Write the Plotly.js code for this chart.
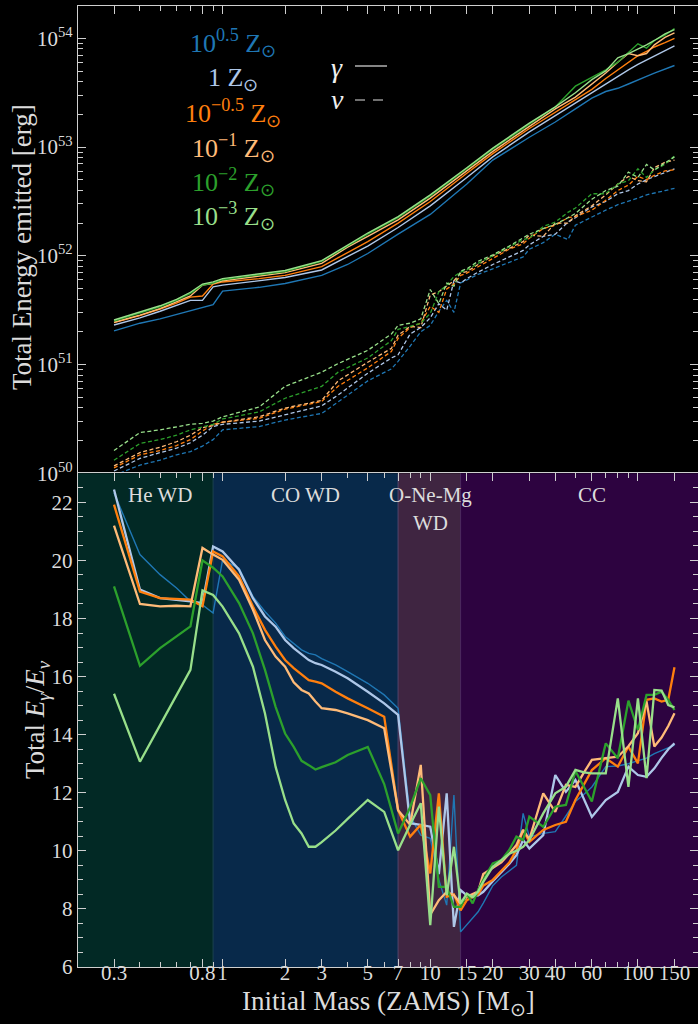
<!DOCTYPE html>
<html><head><meta charset="utf-8">
<script src="https://cdn.plot.ly/plotly-3.0.1.min.js"></script>
<style>html,body{margin:0;padding:0;background:#000;} #chart{width:698px;height:1024px;}</style>
</head><body><div id="chart"></div>
<script>
// ---------- DATA ----------
const seriesNames = ['10<sup>0.5</sup> Z<sub>⊙</sub>', '1 Z<sub>⊙</sub>', '10<sup>−0.5</sup> Z<sub>⊙</sub>',
                     '10<sup>−1</sup> Z<sub>⊙</sub>', '10<sup>−2</sup> Z<sub>⊙</sub>', '10<sup>−3</sup> Z<sub>⊙</sub>'];

// Top panel: photon energy (erg) vs mass
const massGamma = [0.3,0.4,0.5,0.6,0.7,0.8,0.9,1.0,1.5,2,3,4,5,7,10,15,20,30,40,50,60,70,80,90,100,110,120,135,150];
const gamma_p05 = [2.04e51,2.40e51,2.63e51,2.88e51,3.09e51,3.31e51,3.55e51,4.73e51,5.13e51,5.56e51,6.61e51,8.32e51,1.05e52,1.58e52,2.40e52,4.57e52,7.59e52,1.23e53,1.70e53,2.24e53,2.82e53,3.24e53,3.47e53,3.80e53,4.17e53,4.47e53,4.79e53,5.25e53,5.62e53];
const gamma_0   = [2.31e51,2.69e51,3.09e51,3.47e51,3.89e51,3.89e51,5.19e51,5.37e51,5.89e51,6.31e51,7.41e51,9.77e51,1.23e52,1.82e52,2.88e52,5.25e52,8.13e52,1.38e53,1.95e53,2.51e53,3.16e53,3.80e53,4.47e53,5.13e53,5.75e53,6.31e53,6.92e53,7.76e53,8.51e53];
const gamma_m05 = [2.43e51,2.82e51,3.24e51,3.67e51,4.17e51,4.27e51,5.50e51,5.75e51,6.17e51,6.61e51,7.94e51,1.07e52,1.35e52,2.00e52,3.16e52,5.75e52,8.71e52,1.48e53,2.09e53,2.69e53,3.39e53,4.27e53,5.13e53,6.03e53,6.92e53,7.59e53,8.32e53,9.12e53,1.00e54];
const gamma_m1  = [2.45e51,2.85e51,3.27e51,3.76e51,4.27e51,5.37e51,5.56e51,5.89e51,6.46e51,7.00e51,8.51e51,1.20e52,1.51e52,2.14e52,3.39e52,6.03e52,9.12e52,1.55e53,2.24e53,2.88e53,3.80e53,4.79e53,6.03e53,7.24e53,6.92e53,7.24e53,8.71e53,1.02e54,1.12e54];
const gamma_m2  = [2.51e51,2.95e51,3.39e51,3.89e51,4.52e51,5.37e51,5.62e51,6.03e51,6.61e51,7.16e51,8.91e51,1.23e52,1.58e52,2.24e52,3.55e52,6.31e52,9.55e52,1.62e53,2.34e53,3.63e53,4.37e53,5.13e53,6.03e53,7.41e53,8.91e53,8.13e53,9.55e53,1.07e54,1.23e54];
const gamma_m3  = [2.57e51,3.02e51,3.47e51,3.98e51,4.62e51,5.50e51,5.75e51,6.17e51,6.76e51,7.33e51,9.02e51,1.26e52,1.62e52,2.29e52,3.63e52,6.46e52,9.77e52,1.66e53,2.34e53,3.16e53,4.17e53,5.01e53,6.61e53,7.24e53,7.94e53,8.71e53,9.55e53,1.10e54,1.20e54];

// Top panel: neutrino energy (erg) vs mass
const massNu = [0.3,0.4,0.5,0.6,0.7,0.8,0.9,1.0,1.5,2,3,3.6,5,6.5,7,8,9,10,11,12,13,14,15,17,20,24,28,30,35,40,46,50,60,70,80,90,100,110,120,135,150];
const nu_p05 = [9.55e49,1.19e50,1.32e50,1.48e50,1.58e50,1.78e50,2.04e50,2.51e50,2.69e50,3.09e50,3.55e50,4.57e50,7.08e50,9.12e50,1.07e51,1.48e51,2.00e51,2.29e51,3.09e51,3.89e51,3.02e51,5.62e51,6.03e51,6.76e51,7.59e51,8.71e51,9.77e51,1.15e52,1.32e52,1.58e52,1.41e52,1.91e52,2.29e52,2.63e52,2.95e52,3.16e52,3.39e52,3.63e52,3.80e52,3.98e52,4.17e52];
const nu_0   = [1.05e50,1.37e50,1.55e50,1.70e50,1.91e50,2.24e50,2.69e50,2.82e50,3.02e50,3.47e50,4.17e50,5.25e50,8.32e50,1.15e51,1.23e51,1.91e51,2.19e51,2.69e51,3.63e51,3.16e51,5.89e51,5.62e51,6.17e51,7.08e51,8.32e51,9.77e51,1.12e52,1.26e52,1.51e52,1.58e52,2.04e52,2.24e52,2.82e52,3.16e52,3.72e52,3.98e52,4.57e52,5.01e52,5.37e52,5.89e52,6.31e52];
const nu_m05 = [1.12e50,1.48e50,1.62e50,1.80e50,2.04e50,2.45e50,2.82e50,2.95e50,3.20e50,3.89e50,4.57e50,6.31e50,9.33e50,1.32e51,1.74e51,2.19e51,2.40e51,3.43e51,3.02e51,4.95e51,5.50e51,6.61e51,6.92e51,7.94e51,9.55e51,1.15e52,1.29e52,1.45e52,1.78e52,1.91e52,2.24e52,2.29e52,2.63e52,3.24e52,3.98e52,4.47e52,5.37e52,5.01e52,5.50e52,6.03e52,6.17e52];
const nu_m1  = [1.17e50,1.55e50,1.74e50,1.95e50,2.24e50,2.63e50,2.75e50,2.95e50,3.31e50,3.98e50,4.68e50,7.08e50,1.05e51,1.41e51,1.86e51,2.24e51,2.19e51,4.37e51,4.68e51,5.25e51,5.89e51,6.92e51,7.16e51,8.32e51,1.00e52,1.17e52,1.35e52,1.55e52,1.51e52,2.00e52,2.00e52,2.34e52,2.88e52,3.63e52,4.57e52,5.37e52,4.90e52,4.79e52,6.46e52,7.24e52,7.59e52];
const nu_m2  = [1.32e50,1.88e50,2.04e50,2.24e50,2.51e50,2.69e50,2.82e50,3.16e50,3.67e50,4.90e50,6.31e50,8.51e50,1.15e51,1.66e51,2.11e51,2.24e51,2.40e51,2.95e51,4.68e51,5.37e51,6.46e51,7.08e51,7.41e51,8.51e51,1.00e52,1.20e52,1.41e52,1.45e52,1.86e52,2.04e52,2.51e52,2.75e52,3.72e52,3.72e52,4.57e52,4.90e52,6.31e52,5.25e52,6.17e52,6.92e52,8.32e52];
const nu_m3  = [1.62e50,2.37e50,2.51e50,2.69e50,2.82e50,2.88e50,3.02e50,3.31e50,4.07e50,6.31e50,8.51e50,1.02e51,1.35e51,1.91e51,2.29e51,2.40e51,2.63e51,4.90e51,3.63e51,5.62e51,5.25e51,7.24e51,7.59e51,8.91e51,1.02e52,1.23e52,1.48e52,1.58e52,1.78e52,1.95e52,2.24e52,2.45e52,3.31e52,3.98e52,4.37e52,5.89e52,5.25e52,6.92e52,6.17e52,7.08e52,8.13e52];

// Bottom panel: E_gamma / E_nu vs mass
const massRatio = [0.3,0.4,0.5,0.6,0.7,0.8,0.9,1.0,1.2,1.4,1.6,1.8,2.0,2.2,2.4,2.6,2.8,3.0,3.5,4.0,5.0,6.0,7.0,8,9,10,11,12,13,14,15,16,17,18,20,22,24,26,28,30,35,40,45,50,55,60,70,80,90,100,110,120,130,140,150];
const ratio_p05 = [22.33,20.2,19.51,19.05,18.59,18.47,18.19,20.02,19.73,18.76,18.24,17.84,17.38,17.15,16.92,16.80,16.75,16.62,16.4,16.17,15.77,15.37,14.91,11.2,10.54,10.43,9.0,8.13,11.92,7.21,7.45,7.7,7.9,8.2,8.8,9.1,9.3,9.5,11.29,10.48,10.6,10.66,11.2,11.7,11.95,12.2,12.9,12.92,13.0,13.1,13.19,13.35,13.45,13.55,13.64];
const ratio_0   = [22.44,19.0,18.7,18.65,18.59,18.53,20.48,20.31,19.68,18.70,18.07,17.72,17.26,16.98,16.75,16.57,16.46,16.40,16.17,15.94,15.48,15.08,14.68,10.95,10.89,10.83,9.2,11.98,7.38,8.65,8.47,8.45,8.47,8.59,8.95,9.25,9.55,9.85,10.37,10.08,10.54,12.61,12.03,12.44,11.8,11.17,11.75,12.03,12.9,12.61,12.55,12.84,13.2,13.5,13.7];
const ratio_m05 = [21.92,18.93,18.7,18.68,18.65,18.42,20.31,20.14,19.45,18.41,17.61,17.03,16.57,16.29,16.06,15.88,15.83,15.77,15.48,15.25,14.91,14.62,11.4,10.49,10.9,9.22,11.98,8.42,8.5,7.95,8.3,8.42,8.5,8.8,9.0,9.3,9.6,10.03,10.72,10.31,10.72,10.89,11.0,11.75,12.3,12.78,13.19,12.9,13.59,13.01,15.2,15.25,15.14,15.2,16.32];
const ratio_m1  = [21.2,18.5,18.42,18.44,18.42,20.43,20.2,20.02,19.33,18.3,17.26,16.69,16.34,15.8,15.54,15.42,15.14,14.91,14.85,14.73,14.5,14.22,11.4,10.9,12.96,7.8,8.3,8.59,8.47,8.19,8.42,8.5,8.6,9.2,9.4,9.6,9.9,10.2,10.72,10.4,11.98,11.34,12.27,12.2,12.7,13.13,13.19,13.24,13.6,14.05,15.14,13.59,13.9,14.3,14.74];
const ratio_m2  = [19.11,16.37,16.98,17.38,17.73,20.0,19.75,19.45,18.53,17.49,16.23,14.96,14.04,13.58,13.1,12.95,12.8,12.88,13.05,13.3,13.58,12.3,10.6,11.5,12.5,11.92,8.76,8.76,8.07,8.07,8.53,8.19,8.65,9.0,9.57,9.68,10.03,10.49,10.37,11.18,10.83,11.52,11.58,12.75,12.2,11.7,13.7,13.19,15.17,14.16,15.37,15.37,15.48,15.2,14.85];
const ratio_m3  = [15.41,13.07,14.33,15.36,16.23,18.97,18.81,18.41,17.49,16.34,14.73,12.89,11.75,10.94,10.6,10.14,10.14,10.3,10.7,11.1,11.75,11.34,10.02,10.9,11.64,7.44,11.52,8.47,10.14,8.19,8.53,8.4,8.6,8.93,9.45,9.68,9.9,10.0,10.14,10.37,11.29,11.98,12.21,12.79,12.7,12.67,12.67,15.25,12.2,15.25,12.5,15.54,15.52,15.02,14.94];

// Remnant regions (mass boundaries) and labels
const regionNames = ['He WD', 'CO WD', 'O-Ne-Mg', 'CC'];
const regionEdges = [0.9, 7, 14];
const xTickVals = [0.3,0.8,1,2,3,5,7,10,15,20,30,40,60,100,150];
const xTickText = ['0.3','0.8','1','2','3','5','7','10','15','20','30','40','60','100','150'];

// ---------- STYLE ----------
const colors = ['#1f77b4','#aec7e8','#ff7f0e','#ffbb78','#2ca02c','#98df8a'];
const gammaSets = [gamma_p05,gamma_0,gamma_m05,gamma_m1,gamma_m2,gamma_m3];
const nuSets = [nu_p05,nu_0,nu_m05,nu_m1,nu_m2,nu_m3];
const ratioSets = [ratio_p05,ratio_0,ratio_m05,ratio_m1,ratio_m2,ratio_m3];
const ratioWidths = [1.4,2.3,2.3,2.3,2.3,2.3];

const FONT = 'Liberation Serif, Times New Roman, serif';
const TXT = '#dcdcdc';
const AX = '#cfcfcf';
const XR = [-0.6963, 2.2893];

const traces = [];
for (let i = 0; i < 6; i++) {
  traces.push({x: massGamma, y: gammaSets[i], xaxis:'x', yaxis:'y', mode:'lines',
    line:{color:colors[i], width:1.4}, hoverinfo:'skip', showlegend:false});
}
for (let i = 0; i < 6; i++) {
  traces.push({x: massNu, y: nuSets[i], xaxis:'x', yaxis:'y', mode:'lines',
    line:{color:colors[i], width:1.3, dash:'4px,2.5px'}, hoverinfo:'skip', showlegend:false});
}
for (let i = 0; i < 6; i++) {
  traces.push({x: massRatio, y: ratioSets[i], xaxis:'x2', yaxis:'y2', mode:'lines',
    line:{color:colors[i], width:ratioWidths[i]}, hoverinfo:'skip', showlegend:false});
}

// minor tick positions
const xMinor = [0.4,0.5,0.6,0.7,0.9,4,6,8,9,50,70,80,90];
const yMinorTop = [];
for (let d = 50; d < 55; d++) for (let k = 2; k <= 9; k++) yMinorTop.push(k * Math.pow(10, d));

const lg = Math.log10;
const xLo = Math.pow(10, XR[0]), xHi = Math.pow(10, XR[1]);
const bands = [
  {x0: xLo, x1: regionEdges[0], fill:'#022925'},
  {x0: regionEdges[0], x1: regionEdges[1], fill:'#08294a'},
  {x0: regionEdges[1], x1: regionEdges[2], fill:'#3f2541'},
  {x0: regionEdges[2], x1: xHi, fill:'#2d0340'}
];
const shapes = bands.map(b => ({type:'rect', xref:'x2', yref:'y2 domain', x0:b.x0, x1:b.x1, y0:0, y1:1,
  fillcolor:b.fill, line:{width:0}, layer:'below'}));
const edgeCols = ['#1c4452','#55486e','#4f2a62'];
regionEdges.forEach((e, i) => shapes.push({type:'line', xref:'x2', yref:'y2 domain', x0:e, x1:e, y0:0, y1:1,
  line:{color:edgeCols[i], width:1}, layer:'below'}));
// gamma / nu key lines
const px = v => (v - 78) / 620, py = v => (967 - v) / 961;
shapes.push({type:'line', xref:'paper', yref:'paper', x0:px(355), x1:px(387), y0:py(66), y1:py(66), line:{color:'#e0e0e0', width:1.2}});
shapes.push({type:'line', xref:'paper', yref:'paper', x0:px(355), x1:px(385), y0:py(100), y1:py(100), line:{color:'#e0e0e0', width:1.2, dash:'10px,8px'}});

const annotations = [];
const legendY = [43, 79, 113, 148, 182, 216];
seriesNames.forEach((n, i) => annotations.push({xref:'paper', yref:'paper', x:px(233), y:py(legendY[i]),
  text:n, showarrow:false, xanchor:'center', yanchor:'middle', font:{family:FONT, size:26, color:colors[i]}}));
annotations.push({xref:'paper', yref:'paper', x:px(337), y:py(67), text:'<i>γ</i>', showarrow:false,
  xanchor:'center', yanchor:'middle', font:{family:FONT, size:28, color:'#f0f0f0'}});
annotations.push({xref:'paper', yref:'paper', x:px(337), y:py(100), text:'<i>ν</i>', showarrow:false,
  xanchor:'center', yanchor:'middle', font:{family:FONT, size:28, color:'#f0f0f0'}});
// region labels
const regionLabelX = [0.5, 2.5, 10, 60];
regionNames.forEach((n, i) => annotations.push({xref:'x2', yref:'paper', x:lg(regionLabelX[i]), y:py(495),
  text:n, showarrow:false, xanchor:'center', yanchor:'middle', font:{family:FONT, size:21, color:TXT}}));
annotations.push({xref:'x2', yref:'paper', x:lg(regionLabelX[2]), y:py(523), text:'WD', showarrow:false,
  xanchor:'center', yanchor:'middle', font:{family:FONT, size:21, color:TXT}});
// axis titles
annotations.push({xref:'paper', yref:'paper', x:px(388), y:py(1003), text:'Initial Mass (ZAMS) [M<sub>⊙</sub>]',
  showarrow:false, xanchor:'center', yanchor:'middle', font:{family:FONT, size:27, color:TXT}});
annotations.push({xref:'paper', yref:'paper', x:px(22), y:py(247), text:'Total Energy emitted [erg]', textangle:-90,
  showarrow:false, xanchor:'center', yanchor:'middle', font:{family:FONT, size:27, color:TXT}});
annotations.push({xref:'paper', yref:'paper', x:px(37), y:py(720), text:'Total <i>E</i><sub><i>γ</i></sub>/<i>E</i><sub><i>ν</i></sub>', textangle:-90,
  showarrow:false, xanchor:'center', yanchor:'middle', font:{family:FONT, size:27, color:TXT}});

const tickFont = {family:FONT, size:21, color:TXT};
const splitY = 493.7 / 961;
const layout = {
  width:698, height:1024,
  margin:{l:78, r:0, t:6, b:57},
  paper_bgcolor:'#000000', plot_bgcolor:'#000000',
  showlegend:false,
  xaxis:{type:'log', range:XR, anchor:'y', side:'top', showline:true, linecolor:AX, linewidth:1.2,
    ticks:'inside', ticklen:8, tickwidth:1, tickcolor:AX, tickvals:xTickVals, showticklabels:false,
    showgrid:false, zeroline:false,
    minor:{tickmode:'array', tickvals:xMinor, ticks:'inside', ticklen:5, tickwidth:1, tickcolor:AX, showgrid:false}},
  yaxis:{type:'log', range:[50, 54.297], domain:[splitY, 1], anchor:'x', showline:true, linecolor:AX, linewidth:1.2,
    mirror:'ticks', ticks:'inside', ticklen:8, tickwidth:1, tickcolor:AX,
    tickvals:[1e50,1e51,1e52,1e53,1e54],
    ticktext:['10<sup>50</sup>','10<sup>51</sup>','10<sup>52</sup>','10<sup>53</sup>','10<sup>54</sup>'],
    tickfont:tickFont, showgrid:false, zeroline:false,
    minor:{tickmode:'array', tickvals:yMinorTop, ticks:'inside', ticklen:5, tickwidth:1, tickcolor:AX, showgrid:false}},
  xaxis2:{type:'log', range:XR, anchor:'y2', showline:true, linecolor:AX, linewidth:1.2, mirror:'ticks',
    ticks:'inside', ticklen:8, tickwidth:1, tickcolor:AX, tickvals:xTickVals, ticktext:xTickText, tickangle:0,
    ticklabelstandoff:-13,
    tickfont:tickFont, showgrid:false, zeroline:false,
    minor:{tickmode:'array', tickvals:xMinor, ticks:'inside', ticklen:5, tickwidth:1, tickcolor:AX, showgrid:false}},
  yaxis2:{range:[6, 23.0], domain:[0, splitY], anchor:'x2', showline:true, linecolor:AX, linewidth:1.2,
    mirror:'ticks', ticks:'inside', ticklen:8, tickwidth:1, tickcolor:AX, tickmode:'linear', tick0:6, dtick:2,
    tickfont:tickFont, showgrid:false, zeroline:false,
    minor:{dtick:0.5, tick0:6, ticks:'inside', ticklen:5, tickwidth:1, tickcolor:AX, showgrid:false}},
  shapes:shapes,
  annotations:annotations
};

Plotly.newPlot('chart', traces, layout, {staticPlot:true, displayModeBar:false});
</script></body></html>
